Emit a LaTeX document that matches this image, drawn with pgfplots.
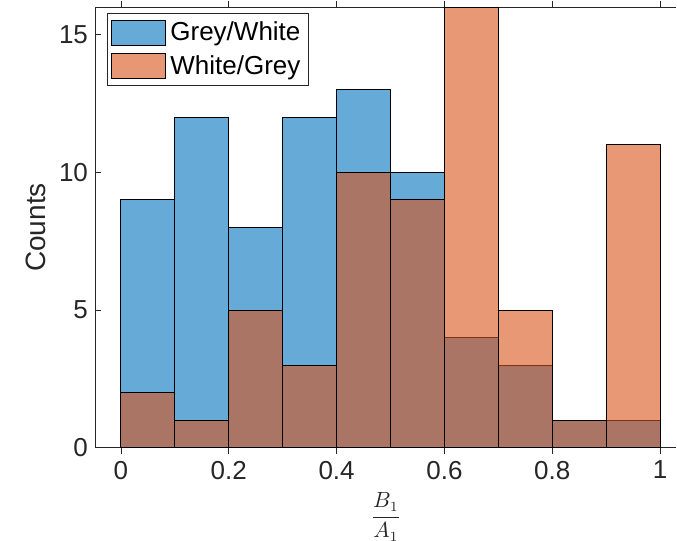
\documentclass[border=0pt]{standalone}
\usepackage{fontspec}
\setmainfont{Liberation Sans}
\usepackage{pgfplots}
\pgfplotsset{compat=1.18}
\definecolor{mblue}{RGB}{0,114,189}
\definecolor{morange}{RGB}{217,83,25}
\definecolor{axgray}{RGB}{38,38,38}
\begin{document}
\begin{tikzpicture}
\begin{axis}[
  scale only axis, width=291pt, height=220.3pt,
  xmin=-0.0482, xmax=1.0315, ymin=0, ymax=16,
  xtick={0,0.2,0.4,0.6,0.8,1},
  xticklabels={0,0.2,0.4,0.6,0.8,1},
  ytick={0,5,10,15},
  ytick pos=left, xtick pos=both,
  tick align=inside, major tick length=3pt,
  tick style={axgray, line width=0.4pt},
  axis line style={axgray, line width=0.4pt},
  ticklabel style={font=\fontsize{13}{15}\selectfont, text=axgray},
  /pgf/number format/assume math mode=true,
  ylabel={Counts},
  ylabel style={font=\fontsize{14}{16}\selectfont, text=axgray},
  xlabel={$\displaystyle\frac{B_1}{A_1}$},
  xlabel style={font=\fontsize{10.5}{12}\selectfont, text=axgray},
  ybar, bar shift=0pt, bar width=0.1,
  legend style={at={(0,1)}, anchor=north west, xshift=6pt, yshift=-3pt,
    draw=axgray, line width=0.4pt, font=\fontsize{13}{15}\selectfont,
    row sep=2pt, inner sep=2pt},
  legend cell align=left,
  legend image code/.code={\draw[#1] (0pt,-6.25pt) rectangle (27pt,6.25pt);},
]
\addplot[draw=black, line width=0.5pt, fill=mblue, fill opacity=0.6]
  coordinates {(0.05,9) (0.15,12) (0.25,8) (0.35,12) (0.45,13) (0.55,10) (0.65,4) (0.75,3) (0.85,1) (0.95,1)};
\addlegendentry{Grey/White}
\addplot[draw=black, line width=0.5pt, fill=morange, fill opacity=0.6]
  coordinates {(0.05,2) (0.15,1) (0.25,5) (0.35,3) (0.45,10) (0.55,9) (0.65,16) (0.75,5) (0.85,1) (0.95,11)};
\addlegendentry{White/Grey}
\end{axis}
\draw[white, line width=1.2pt] (current axis.south east) -- (current axis.north east);
\pgfresetboundingbox
\path ([xshift=-47.5pt,yshift=-46.6pt]current axis.south west) rectangle ([yshift=3.6pt]current axis.north east);
\end{tikzpicture}
\end{document}
